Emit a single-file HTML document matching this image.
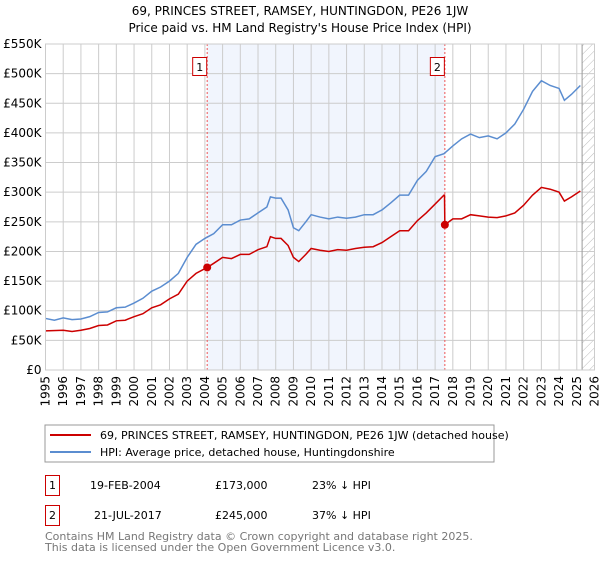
<!DOCTYPE html>
<html><head><meta charset="utf-8"><style>
body{margin:0;background:#fff;font-family:"DejaVu Sans","Liberation Sans",sans-serif;}
svg text{font-family:"DejaVu Sans","Liberation Sans",sans-serif;}
</style></head><body>
<svg id="c" width="600" height="560" xmlns="http://www.w3.org/2000/svg">
<defs><pattern id="hatch" width="6" height="6" patternUnits="userSpaceOnUse" patternTransform="rotate(45)"><line x1="0" y1="0" x2="0" y2="6" stroke="#bbb" stroke-width="1"/></pattern></defs>
<text x="300" y="15" text-anchor="middle" font-size="12">69, PRINCES STREET, RAMSEY, HUNTINGDON, PE26 1JW</text>
<text x="300" y="32" text-anchor="middle" font-size="12">Price paid vs. HM Land Registry's House Price Index (HPI)</text>
<g id="plot"></g>
<rect x="45" y="425" width="449" height="37" fill="#fff" stroke="#999"/>
<line x1="50" y1="435" x2="91" y2="435" stroke="#cc0000" stroke-width="2"/>
<text x="100" y="439" font-size="11">69, PRINCES STREET, RAMSEY, HUNTINGDON, PE26 1JW (detached house)</text>
<line x1="50" y1="452" x2="91" y2="452" stroke="#5b8dd0" stroke-width="2"/>
<text x="100" y="456" font-size="11">HPI: Average price, detached house, Huntingdonshire</text>
<rect x="45.5" y="475.5" width="14" height="20" fill="#fff" stroke="#cc0000"/>
<text x="52.5" y="489" text-anchor="middle" font-size="11">1</text>
<text x="90" y="489" font-size="11">19-FEB-2004</text>
<text x="215" y="489" font-size="11">£173,000</text>
<text x="312" y="489" font-size="11">23% ↓ HPI</text>
<rect x="45.5" y="505.5" width="14" height="20" fill="#fff" stroke="#cc0000"/>
<text x="52.5" y="519" text-anchor="middle" font-size="11">2</text>
<text x="94" y="519" font-size="11">21-JUL-2017</text>
<text x="215" y="519" font-size="11">£245,000</text>
<text x="312" y="519" font-size="11">37% ↓ HPI</text>
<text x="45" y="540" font-size="11" fill="#777">Contains HM Land Registry data © Crown copyright and database right 2025.</text>
<text x="45" y="551" font-size="11" fill="#777">This data is licensed under the Open Government Licence v3.0.</text>
</svg>
<script>
const yTicks=[0,50,100,150,200,250,300,350,400,450,500,550];
const xYears=[1995,1996,1997,1998,1999,2000,2001,2002,2003,2004,2005,2006,2007,2008,2009,2010,2011,2012,2013,2014,2015,2016,2017,2018,2019,2020,2021,2022,2023,2024,2025,2026];
const hpiT=[1995,1995.5,1996,1996.5,1997,1997.5,1998,1998.5,1999,1999.5,2000,2000.5,2001,2001.5,2002,2002.5,2003,2003.5,2004,2004.5,2005,2005.5,2006,2006.5,2007,2007.5,2007.7,2008,2008.3,2008.7,2009,2009.3,2009.7,2010,2010.5,2011,2011.5,2012,2012.5,2013,2013.5,2014,2014.5,2015,2015.5,2016,2016.5,2017,2017.5,2018,2018.5,2019,2019.5,2020,2020.5,2021,2021.5,2022,2022.5,2023,2023.5,2024,2024.3,2024.7,2025.2];
const hpiV=[87,84,88,85,86,90,97,98,105,106,113,121,133,140,150,163,190,212,222,230,245,245,253,255,265,275,292,290,290,270,240,235,250,262,258,255,258,256,258,262,262,270,282,295,295,320,335,360,365,378,390,398,392,395,390,400,415,440,470,488,480,475,455,465,480];
const redT=[1995,1996,1996.5,1997,1997.5,1998,1998.5,1999,1999.5,2000,2000.5,2001,2001.5,2002,2002.5,2003,2003.5,2004.13,2004.5,2005,2005.5,2006,2006.5,2007,2007.5,2007.7,2008,2008.3,2008.7,2009,2009.3,2009.7,2010,2010.5,2011,2011.5,2012,2012.5,2013,2013.5,2014,2014.5,2015,2015.5,2016,2016.5,2017,2017.5,2017.53,2017.55,2018,2018.5,2019,2019.5,2020,2020.5,2021,2021.5,2022,2022.5,2023,2023.5,2024,2024.3,2024.7,2025.2];
const redV=[66,67,65,67,70,75,76,83,84,90,95,105,110,120,128,150,163,173,180,190,188,195,195,203,208,225,222,222,210,190,183,195,205,202,200,203,202,205,207,208,215,225,235,235,252,265,280,295,295,245,255,255,262,260,258,257,260,265,278,295,308,305,300,285,292,302];
const saleT=[2004.13,2017.55];
const saleV=[173,245];
const saleLabels=["1","2"];
const L=45.5,R=594.5,T=44,B=370;
const X=t=>L+(t-1995)/(2026-1995)*(R-L);
const Y=v=>B-v/550*(B-T);
const g=document.getElementById('plot');
const NS='http://www.w3.org/2000/svg';
function mk(tag,attrs){const e=document.createElementNS(NS,tag);for(const k in attrs)e.setAttribute(k,attrs[k]);g.appendChild(e);return e;}
let e;
e=mk('rect',{x:X(saleT[0]),y:T,width:X(saleT[1])-X(saleT[0]),height:B-T,fill:'#eef3fc',opacity:0.8});


e=mk('rect',{x:X(2025.3),y:T,width:R-X(2025.3),height:B-T,fill:'url(#hatch)'});


yTicks.forEach(v=>{
 e=mk('line',{x1:L,x2:R,y1:Y(v),y2:Y(v),stroke:'#ccc'});
 
 
 e=mk('text',{x:L-4,y:Y(v)+4,'text-anchor':'end','font-size':12});
 e.textContent=v===0?'£0':'£'+v+'K';
 
 
});
xYears.forEach(yr=>{
 e=mk('line',{x1:X(yr),x2:X(yr),y1:T,y2:B,stroke:'#ccc'});
 
 
 e=mk('text',{x:0,y:0,'text-anchor':'end','font-size':12,transform:`translate(${X(yr)+4},${B+6}) rotate(-90)`});
 e.textContent=yr;
 
 
});
e=mk('line',{x1:X(2025.3),x2:X(2025.3),y1:T,y2:B,stroke:'#999'});


saleT.forEach((t,i)=>{
 e=mk('line',{x1:X(t),x2:X(t),y1:T,y2:B,stroke:'#e55','stroke-dasharray':'2,2'});
 
 
 e=mk('rect',{x:X(t)-14.5,y:57.5,width:14,height:18,fill:'#fff',stroke:'#cc0000'});
 
 
 e=mk('text',{x:X(t)-7.5,y:71,'text-anchor':'middle','font-size':11});
 e.textContent=saleLabels[i];
 
 
});
e=mk('polyline',{points:hpiT.map((t,i)=>X(t)+','+Y(hpiV[i])).join(' '),fill:'none',stroke:'#5b8dd0','stroke-width':1.5});


e=mk('polyline',{points:redT.map((t,i)=>X(t)+','+Y(redV[i])).join(' '),fill:'none',stroke:'#cc0000','stroke-width':1.5});


saleT.forEach((t,i)=>{
 e=mk('circle',{cx:X(t),cy:Y(saleV[i]),r:4,fill:'#cc0000'});
 
 
});
e=mk('rect',{x:L,y:T,width:R-L,height:B-T,fill:'none',stroke:'#ccc'});


</script>
</body></html>
